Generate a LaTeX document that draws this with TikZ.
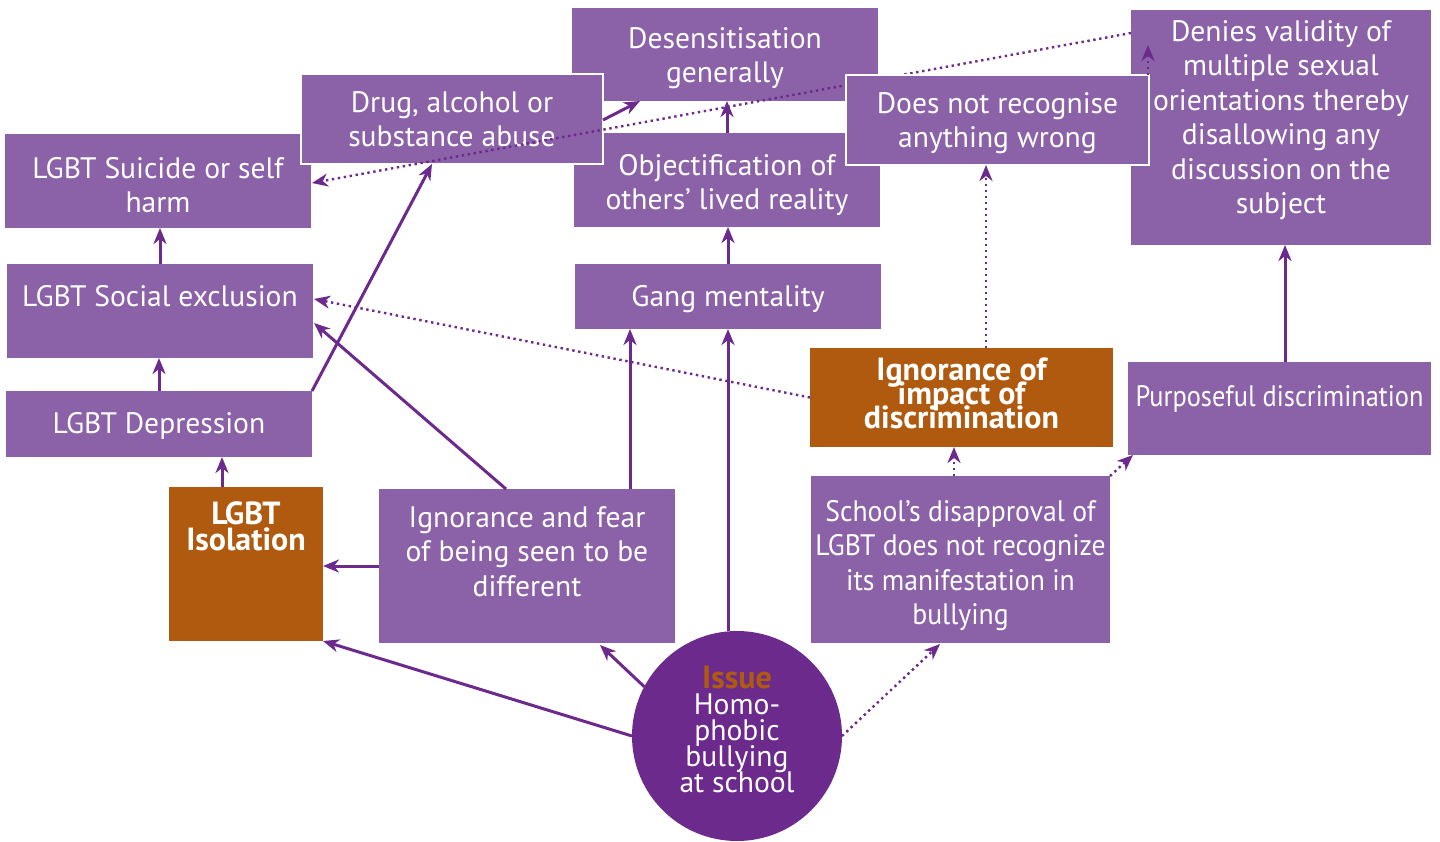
\documentclass[tikz,border=0pt]{standalone}
\usepackage{fontspec}
\setmainfont{PT Sans}
\newfontfamily\condfont[FakeStretch=0.89]{PT Sans}
\newfontfamily\condfontb[FakeStretch=0.935]{PT Sans}
\usetikzlibrary{arrows.meta,calc}
\newdimen\pxu \pxu=0.5pt
\definecolor{boxc}{HTML}{8B61A7}
\definecolor{linec}{HTML}{6B2A8C}
\definecolor{orng}{HTML}{B05A10}
\newcommand\tightlines{\lineskiplimit=-100pt\relax}
\newcommand\circfont{\fontsize{14.8}{13}\selectfont\tightlines}
\newcommand\bt[4]{\parbox[c][#2\pxu][t]{#1\pxu}{\tightlines\centering\vspace*{#3\pxu}\strut #4\par}}
\tikzset{
  bx/.style={rectangle, fill=boxc, text=white, inner sep=0pt, outer sep=0pt, font=\fontsize{14.8}{17.25}\selectfont},
  wbx/.style={bx, draw=white, line width=1pt},
  obx/.style={bx, fill=orng},
  arr/.style={draw=linec, line width=1.5pt, -{Stealth[length=8pt,width=6.5pt,inset=2.5pt]}},
  darr/.style={arr, line width=1.2pt, dash pattern=on 1.2pt off 1.8pt},
}
\begin{document}
\begin{tikzpicture}[x=0.5pt,y=-0.5pt]
\useasboundingbox (0,0) rectangle (1440,841);
% boxes
\node[bx] (des) at (725,54.5) {\bt{306}{93}{16}{Desensitisation\\generally}};
\node[bx] (sui) at (158,181) {\bt{306}{94}{20}{LGBT Suicide or self\\harm}};
\node[bx] (obj) at (727,180) {\bt{306}{94}{18}{Objectification of\\others’ lived reality}};
\node[bx] (den) at (1281,127.5) {\bt{300}{235}{7}{Denies validity of\\multiple sexual\\orientations thereby\\disallowing any\\discussion on the\\subject}};
\node[wbx] (drug) at (452,119) {\bt{302}{90}{14}{Drug, alcohol or\\substance abuse}};
\node[bx] (sec) at (160,311) {\bt{306}{94}{18}{LGBT Social exclusion}};
\node[bx] (gang) at (728,296.5) {\bt{306}{65}{18}{Gang mentality}};
\node[obx] (imp) at (961.5,397.5) {\bt{303}{99}{8}{\bfseries\fontsize{16}{12}\selectfont Ignorance of\\impact of\\discrimination}};
\node[bx] (pur) at (1279.5,408.5) {\bt{303}{93}{20}{\condfont Purposeful discrimination}};
\node[bx] (dep) at (159,424) {\bt{306}{66}{18}{LGBT Depression}};
\node[obx] (iso) at (246,564) {\bt{154}{154}{13}{\bfseries\fontsize{16}{13}\selectfont LGBT\\Isolation}};
\node[bx] (fear) at (527,566) {\bt{296}{154}{14}{Ignorance and fear\\of being seen to be\\different}};
\node[bx] (sch) at (960.5,559.5) {\bt{299}{167}{21}{\condfontb School’s disapproval of\\LGBT does not recognize\\its manifestation in\\bullying}};
\node[circle, fill=linec, minimum size=210\pxu, inner sep=0pt, outer sep=0pt, text=white, align=center, font=\circfont] (circ) at (737,736)
  {{\bfseries\fontsize{16}{13}\selectfont\color{orng}Issue}\\Homo-\\phobic\\bullying\\at school\\[-6pt]\mbox{}};
% connectors
\draw[arr] (dep.north) -- (dep.north |- sec.south);
\draw[arr] (sec.north) -- (sec.north |- sui.south);
\coordinate (p3) at ($(iso.north west)+(53,0)$);
\draw[arr] (p3) -- (p3 |- dep.south);
\draw[arr] (dep.north east) -- ($(drug.south west)+(131,0)$);
\draw[arr] ($(fear.north west)+(127,0)$) -- ($(sec.south east)+(1,-35)$);
\draw[arr] (fear.west) -- (fear.west -| iso.east);
\coordinate (p7) at ($(fear.north west)+(251,0)$);
\draw[arr] (p7) -- (p7 |- gang.south);
\draw[arr] (gang.south |- circ.north) -- (gang.south);
\draw[arr] (gang.north) -- (gang.north |- obj.south);
\draw[arr] (obj.north) -- (obj.north |- des.south);
\draw[arr] ($(drug.north east)+(0,46)$) -- ($(des.south west)+(68,0)$);
\draw[arr] (circ.west) -- (iso.south east);
\draw[arr] (circ.152) -- ($(fear.south west)+(221,2)$);
\draw[darr] (circ.east) -- ($(sch.south west)+(129,1)$);
\coordinate (p15) at ($(sch.north west)+(143,0)$);
\draw[darr] (p15) -- (p15 |- imp.south);
\draw[darr] (sch.north east) -- ($(pur.south west)+(5,0)$);
\draw[darr] (imp.west) -- ($(sec.north east)+(1,35)$);
\coordinate (p19) at ($(pur.north west)+(157,0)$);
\draw[arr] (p19) -- (p19 |- den.south);
\draw[darr] ($(den.north west)+(0,23)$) -- ($(sui.north east)+(1,49)$);
% box on top
\node[wbx] (dnr) at (997.5,120) {\bt{303}{90}{14}{Does not recognise\\anything wrong}};
\coordinate (p17) at ($(imp.north west)+(176,0)$);
\draw[darr] (p17) -- (p17 |- dnr.south);
\coordinate (dentip) at ($(dnr.north east)+(-1,-30)$);
\draw[darr] ($(dnr.north east)+(-1,0)$) -- (dentip);
\end{tikzpicture}
\end{document}
